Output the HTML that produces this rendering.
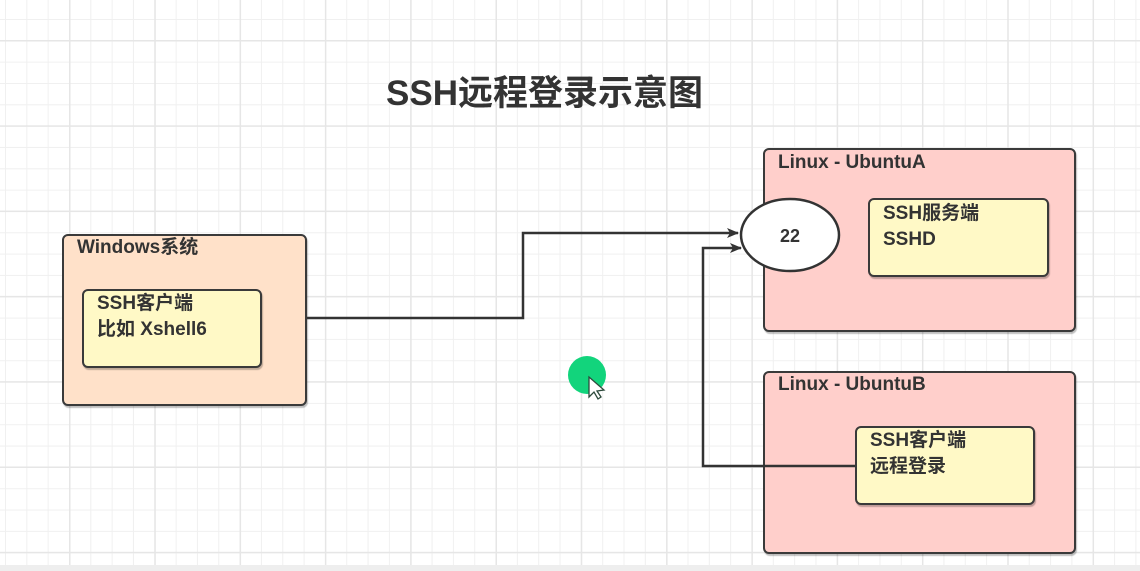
<!DOCTYPE html>
<html><head><meta charset="utf-8"><style>
html,body{margin:0;padding:0}
body{width:1140px;height:571px;overflow:hidden;background:#fff;position:relative;font-family:"Liberation Sans","Noto Sans CJK SC",sans-serif;}
.grid{position:absolute;left:0;top:0;width:1140px;height:565px;
background-image:
linear-gradient(to right,#e6e6e6 1.5px,transparent 1.5px),
linear-gradient(to bottom,#e6e6e6 1.5px,transparent 1.5px),
linear-gradient(to right,#f0f0f0 1px,transparent 1px),
linear-gradient(to bottom,#f0f0f0 1px,transparent 1px);
background-size:85.3px 85.3px,85.3px 85.3px,21.33px 21.33px,21.33px 21.33px;
background-position:69px 40px,69px 40px,5px 19px,5px 19px;}
.bot{position:absolute;left:0;top:565px;width:1140px;height:6px;background:#eeeeee}
.box{position:absolute;border:2.5px solid #3a3a3a;border-radius:6px;box-sizing:border-box;box-shadow:1px 2px 1px rgba(0,0,0,.25)}
.t{position:absolute;font-weight:bold;color:#333;font-size:19px;line-height:24px;white-space:nowrap}
.title{position:absolute;left:386px;top:65px;font-size:35px;font-weight:bold;color:#333;white-space:nowrap;letter-spacing:0px}
</style></head><body>
<div class="grid"></div><div class="bot"></div>
<div class="title">SSH远程登录示意图</div>

<div class="box" style="left:62px;top:234px;width:245px;height:172px;background:#ffe1c9"></div>
<div class="t" style="left:77px;top:236px">Windows系统</div>
<div class="box" style="left:82px;top:289px;width:180px;height:79px;background:#fff9c6"></div>
<div class="t" style="left:97px;top:291px;line-height:26px">SSH客户端<br>比如 Xshell6</div>

<div class="box" style="left:763px;top:148px;width:313px;height:184px;background:#ffcfcb"></div>
<div class="t" style="left:778px;top:151px">Linux - UbuntuA</div>
<div class="box" style="left:868px;top:198px;width:181px;height:79px;background:#fff9c6"></div>
<div class="t" style="left:883px;top:201px;line-height:26px">SSH服务端<br>SSHD</div>

<div class="box" style="left:763px;top:371px;width:313px;height:183px;background:#ffcfcb"></div>
<div class="t" style="left:778px;top:373px">Linux - UbuntuB</div>
<div class="box" style="left:855px;top:426px;width:180px;height:79px;background:#fff9c6"></div>
<div class="t" style="left:870px;top:428px;line-height:26px">SSH客户端<br>远程登录</div>

<svg width="1140" height="571" style="position:absolute;left:0;top:0">
<defs><marker id="a" markerWidth="12" markerHeight="10" refX="11" refY="5" orient="auto" markerUnits="userSpaceOnUse"><path d="M0,0 L12,5 L0,10 L3,5 z" fill="#333"/></marker></defs>
<polyline points="307,318 523,318 523,233 738,233" fill="none" stroke="#333" stroke-width="2.5" marker-end="url(#a)"/>
<polyline points="855,466 703,466 703,248 741,248" fill="none" stroke="#333" stroke-width="2.5" marker-end="url(#a)"/>
<ellipse cx="790" cy="235" rx="49" ry="36" fill="#fff" stroke="#333" stroke-width="2.5"/>
<text x="790" y="242" text-anchor="middle" font-family="Liberation Sans" font-weight="bold" font-size="18" fill="#333">22</text>
<circle cx="587" cy="375" r="19" fill="#12d47c"/>
<path d="M589,377 L589,397 L594,392 L598,399 L601,397 L597,391 L604,390 z" fill="#fff" stroke="#2d4a3c" stroke-width="1.3"/>
</svg>
</body></html>
